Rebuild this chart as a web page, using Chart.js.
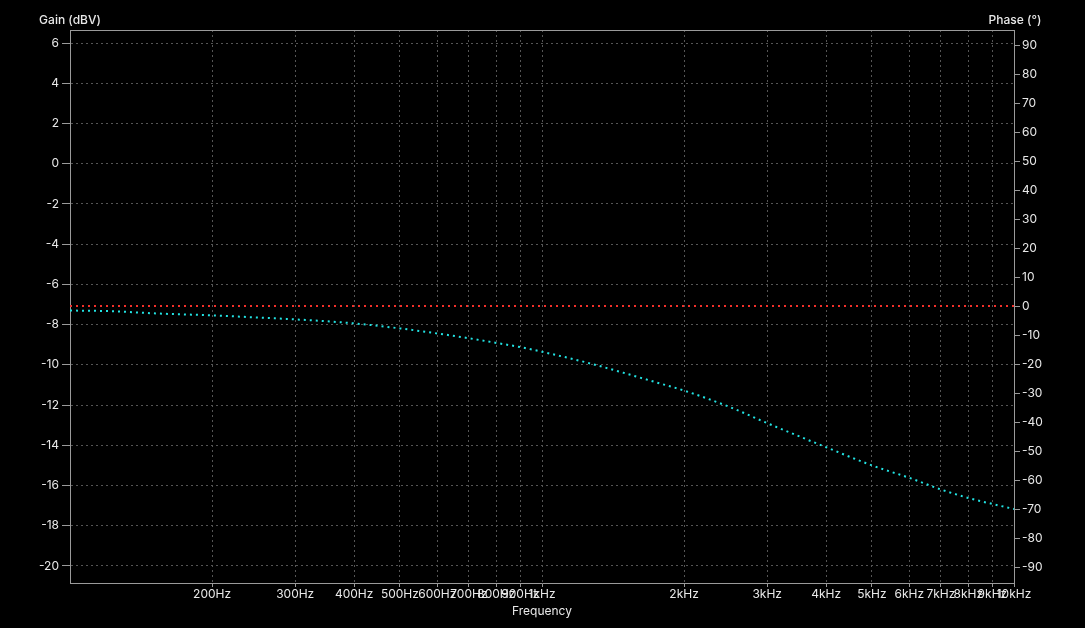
<!DOCTYPE html>
<html>
<head>
<meta charset="utf-8">
<script src="https://cdn.jsdelivr.net/npm/chart.js@4/dist/chart.umd.min.js"></script>
<style>
  body { margin: 0; background: #000; }
  #wrap { width: 1085px; height: 628px; }
</style>
</head>
<body>
<div id="wrap"><canvas id="bodeChart" width="1085" height="628"></canvas></div>
<script>
// measured points (Hz / dBV / degrees)
const freqs = [100, 125, 150, 200, 250, 300, 400, 500, 600, 700, 800, 900, 1000,
               1250, 1500, 1750, 2000, 2500, 3000, 4000, 5000, 6000, 7000, 8000, 9000, 10000];
const gain = [-7.30, -7.34, -7.44, -7.54, -7.65, -7.74, -7.94, -8.19, -8.44, -8.68, -8.91, -9.12, -9.35,
              -9.90, -10.42, -10.88, -11.28, -12.10, -12.90, -14.10, -15.00, -15.62, -16.20, -16.62, -16.92, -17.17];
const phase = [0, 0, 0, 0, 0, 0, 0, 0, 0, 0, 0, 0, 0,
               0, 0, 0, 0, 0, 0, 0, 0, 0, 0, 0, 0, 0];

const freqTicks = [200, 300, 400, 500, 600, 700, 800, 900, 1000,
                   2000, 3000, 4000, 5000, 6000, 7000, 8000, 9000, 10000];
const gainTicks = [-20, -18, -16, -14, -12, -10, -8, -6, -4, -2, 0, 2, 4, 6];
const phaseTicks = [-90, -80, -70, -60, -50, -40, -30, -20, -10, 0, 10, 20, 30, 40, 50, 60, 70, 80, 90];

const textColor = '#e8e8e8';
const gridColor = '#555555';
const borderColor = '#9a9a9a';
const fontFamily = 'Inter, "Liberation Sans", sans-serif';

function setTicks(list) {
    return axis => { axis.ticks = list.map(v => ({ value: v })); };
}

// box around the plot + horizontal axis captions on top
const frame = {
    id: 'frame',
    afterDraw(chart) {
        const { ctx, chartArea } = chart;
        ctx.save();
        ctx.strokeStyle = borderColor;
        ctx.lineWidth = 1;
        ctx.beginPath();
        ctx.moveTo(chartArea.left, chartArea.top + 0.5);
        ctx.lineTo(chartArea.right, chartArea.top + 0.5);
        ctx.stroke();
        ctx.fillStyle = textColor;
        ctx.font = '500 12px ' + fontFamily;
        ctx.textAlign = 'center';
        ctx.textBaseline = 'middle';
        ctx.fillText('Gain (dBV)', chartArea.left, 20);
        ctx.fillText('Phase (°)', chartArea.right + 1, 20);
        ctx.restore();
    }
};

const ctx = document.getElementById('bodeChart').getContext('2d');

new Chart(ctx, {
    type: 'line',
    data: {
        datasets: [
            {
                label: 'Gain',
                data: freqs.map((f, i) => ({ x: f, y: gain[i] })),
                yAxisID: 'gain',
                borderColor: '#22e3e3',
                borderWidth: 2,
                borderDash: [2, 4],
                cubicInterpolationMode: 'monotone',
                pointRadius: 0,
                fill: false
            },
            {
                label: 'Phase',
                data: freqs.map((f, i) => ({ x: f, y: phase[i] })),
                yAxisID: 'phase',
                borderColor: '#f2302a',
                borderWidth: 2,
                borderDash: [2, 4],
                pointRadius: 0,
                fill: false
            }
        ]
    },
    options: {
        responsive: false,
        animation: false,
        layout: { padding: { top: 30, left: 0, right: 0, bottom: 0 } },
        plugins: {
            legend: { display: false },
            tooltip: { enabled: false }
        },
        scales: {
            x: {
                type: 'logarithmic',
                min: 100,
                max: 10000,
                afterBuildTicks: setTicks(freqTicks),
                afterFit: s => { s.height = 45; },
                grid: { color: gridColor, tickColor: borderColor, tickLength: 4 },
                border: { color: borderColor, dash: [2, 3] },
                ticks: {
                    color: textColor,
                    autoSkip: false,
                    maxRotation: 0,
                    padding: 0,
                    font: { family: fontFamily, size: 12 }
                    ,callback: v => v >= 1000 ? (v / 1000) + 'kHz' : v + 'Hz'
                },
                title: {
                    display: true,
                    text: 'Frequency',
                    color: textColor,
                    padding: { top: 2, bottom: 9 },
                    font: { family: fontFamily, size: 12 }
                }
            },
            gain: {
                type: 'linear',
                position: 'left',
                min: -20.85,
                max: 6.65,
                afterBuildTicks: setTicks(gainTicks),
                afterFit: s => { s.width = 70; },
                grid: { color: gridColor, tickColor: borderColor, tickLength: 8 },
                border: { color: borderColor, dash: [2, 3] },
                ticks: {
                    color: textColor,
                    padding: 3,
                    font: { family: fontFamily, size: 12 }
                }
            },
            phase: {
                type: 'linear',
                position: 'right',
                min: -95.5,
                max: 95.2,
                afterBuildTicks: setTicks(phaseTicks),
                afterFit: s => { s.width = 71; },
                grid: { drawOnChartArea: false, tickColor: borderColor, tickLength: 6 },
                border: { color: borderColor },
                ticks: {
                    color: textColor,
                    padding: 2,
                    font: { family: fontFamily, size: 12 }
                }
            }
        }
    },
    plugins: [frame]
});
</script>
</body>
</html>
